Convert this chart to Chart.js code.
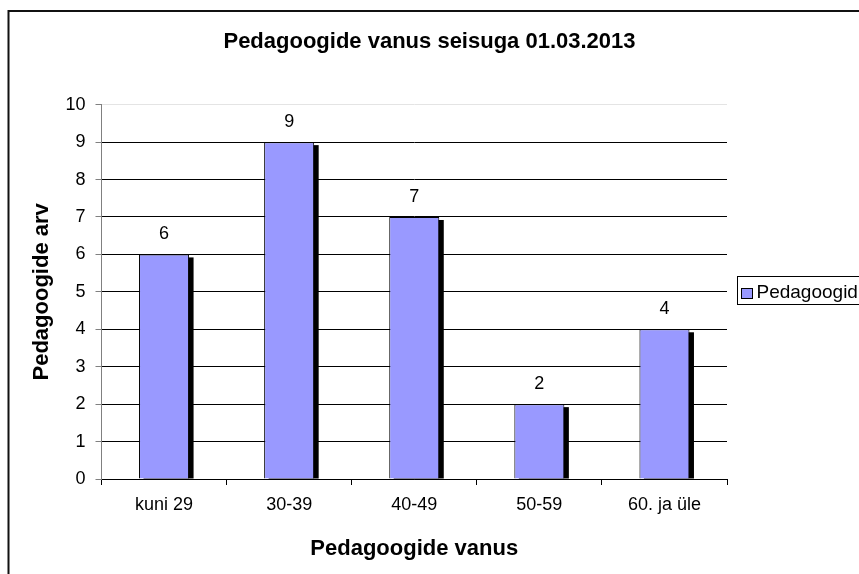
<!DOCTYPE html>
<html>
<head>
<meta charset="utf-8">
<script src="https://cdn.jsdelivr.net/npm/chart.js@4.4.1/dist/chart.umd.min.js"></script>
<style>
body { margin: 0; background: #fff; }
canvas { display: block; }
</style>
</head>
<body>
<canvas id="vanusChart" width="859" height="574"></canvas>
<script>
const ageGroups = ['kuni 29', '30-39', '40-49', '50-59', '60. ja üle'];
const teacherCounts = [6, 9, 7, 2, 4];
const seriesName = 'Pedagoogid';
const chartTitle = 'Pedagoogide vanus seisuga 01.03.2013';
const xTitle = 'Pedagoogide vanus';
const yTitle = 'Pedagoogide arv';
const yMin = 0, yMax = 10, yStep = 1;

const fontFamily = '"Liberation Sans", Arial, sans-serif';
Chart.defaults.font.family = fontFamily;
Chart.defaults.color = '#000';

const barFill = '#9999ff';

// white page + outer frame
const framePlugin = {
    id: 'frame',
    beforeDraw(chart) {
        const ctx = chart.ctx;
        ctx.save();
        ctx.fillStyle = '#fff';
        ctx.fillRect(0, 0, chart.width, chart.height);
        ctx.restore();
    },
    afterDraw(chart) {
        const ctx = chart.ctx;
        ctx.save();
        ctx.strokeStyle = '#111';
        ctx.lineWidth = 2;
        ctx.strokeRect(8.5, 11, chart.width + 20, chart.height + 20);
        ctx.restore();
    }
};

// black drop shadow behind each bar
const shadowPlugin = {
    id: 'barShadow',
    beforeDatasetsDraw(chart) {
        const ctx = chart.ctx;
        const area = chart.chartArea;
        const meta = chart.getDatasetMeta(0);
        ctx.save();
        ctx.beginPath();
        ctx.rect(area.left, area.top - 20, area.right - area.left, area.bottom - area.top + 20);
        ctx.clip();
        ctx.fillStyle = '#000';
        meta.data.forEach(bar => {
            const p = bar.getProps(['x', 'y', 'base', 'width'], true);
            const left = p.x - p.width / 2;
            ctx.fillRect(left + 4.5, p.y + 3, p.width, p.base - p.y - 3);
        });
        ctx.restore();
    }
};

// value labels above the bars
const valueLabelPlugin = {
    id: 'valueLabels',
    afterDatasetsDraw(chart) {
        const ctx = chart.ctx;
        const meta = chart.getDatasetMeta(0);
        const values = chart.data.datasets[0].data;
        ctx.save();
        ctx.font = '18px ' + fontFamily;
        ctx.fillStyle = '#000';
        ctx.textAlign = 'center';
        ctx.textBaseline = 'middle';
        meta.data.forEach((bar, i) => {
            ctx.fillText(String(values[i]), bar.x, bar.y - 20);
        });
        ctx.restore();
    }
};

// legend box on the right, cut by the page edge
const sideLegendPlugin = {
    id: 'sideLegend',
    afterDraw(chart) {
        const ctx = chart.ctx;
        const ds = chart.data.datasets[0];
        ctx.save();
        ctx.strokeStyle = '#000';
        ctx.lineWidth = 1;
        ctx.fillStyle = '#fff';
        ctx.fillRect(737.5, 276.5, 200, 28);
        ctx.strokeRect(737.5, 276.5, 200, 28);
        ctx.fillStyle = ds.backgroundColor;
        ctx.fillRect(741.5, 288.5, 11, 10);
        ctx.strokeRect(741.5, 288.5, 11, 10);
        ctx.fillStyle = '#000';
        ctx.font = '19px ' + fontFamily;
        ctx.textAlign = 'left';
        ctx.textBaseline = 'alphabetic';
        ctx.fillText(ds.label, 756.5, 298);
        ctx.restore();
    }
};

const dataChart = new Chart(document.getElementById('vanusChart'), {
    type: 'bar',
    data: {
        labels: ageGroups,
        datasets: [{
            label: seriesName,
            data: teacherCounts,
            backgroundColor: barFill,
            borderColor: '#000',
            borderWidth: 1,
            barPercentage: 0.4,
            categoryPercentage: 1.0
        }]
    },
    options: {
        responsive: false,
        animation: false,
        devicePixelRatio: 1,
        layout: {
            padding: { top: 0, right: 0, bottom: 0, left: 0 }
        },
        plugins: {
            legend: { display: false },
            tooltip: { enabled: false },
            title: {
                display: true,
                text: chartTitle,
                color: '#000',
                font: { size: 22, weight: 'bold' },
                padding: { top: 29, bottom: 49.3 }
            }
        },
        scales: {
            x: {
                afterFit(scale) { scale.height = 95; },
                grid: {
                    display: true,
                    drawOnChartArea: false,
                    drawTicks: true,
                    tickLength: 6,
                    color: '#000',
                    offset: true
                },
                border: { display: true, color: '#000', width: 1 },
                ticks: {
                    color: '#000',
                    font: { size: 18 },
                    padding: 9,
                    maxRotation: 0
                },
                title: {
                    display: true,
                    text: xTitle,
                    color: '#000',
                    font: { size: 22, weight: 'bold' },
                    padding: { top: 0, bottom: 11.5 }
                }
            },
            y: {
                min: yMin,
                max: yMax,
                afterFit(scale) { scale.width = 101.5; },
                grid: {
                    color: ctx => (ctx.tick && ctx.tick.value === yMax) ? '#e4e4e4' : '#000',
                    tickColor: '#808080',
                    tickLength: 6,
                    drawTicks: true
                },
                border: { display: true, color: '#808080', width: 1 },
                ticks: {
                    stepSize: yStep,
                    color: '#000',
                    font: { size: 18 },
                    padding: 10
                },
                title: {
                    display: true,
                    text: yTitle,
                    color: '#000',
                    font: { size: 22, weight: 'bold' },
                    padding: { top: 29, bottom: 0 }
                }
            },
            // empty right-hand axis, only reserves the room where the legend sits
            legendSpace: {
                type: 'linear',
                position: 'right',
                afterFit(scale) { scale.width = 132; },
                grid: { display: false, drawTicks: false },
                border: { display: false },
                ticks: { display: false }
            }
        }
    },
    plugins: [framePlugin, shadowPlugin, valueLabelPlugin, sideLegendPlugin]
});
</script>
</body>
</html>
